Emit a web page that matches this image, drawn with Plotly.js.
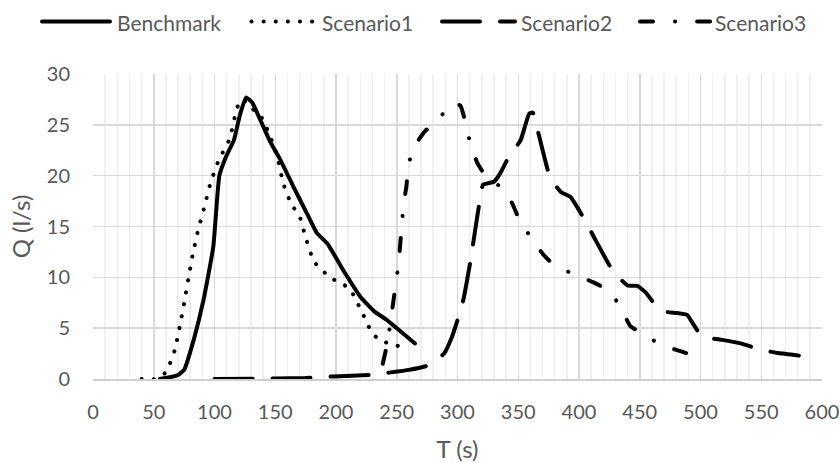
<!DOCTYPE html>
<html>
<head>
<meta charset="utf-8">
<script src="https://cdn.plot.ly/plotly-3.0.1.min.js"></script>
<style>
html,body{margin:0;padding:0;background:#fff;}
#chart{width:840px;height:463px;}
.scatterlayer path.js-line, .shapelayer path{stroke-linecap:round;stroke-linejoin:round;}
</style>
</head>
<body>
<div id="chart"></div>
<script>
// Benchmark
var benchX = [55, 64, 70, 75, 83, 91, 99, 104, 110, 116, 121, 126, 131, 138, 146, 154, 165, 176, 184, 193, 206, 220, 232, 242, 255, 265];
var benchY = [0, 0.2, 0.4, 0.9, 3.9, 7.8, 13, 20, 22, 23.5, 26, 27.7, 27.2, 25.4, 23.3, 21.6, 18.9, 16.3, 14.4, 13.3, 10.7, 8.1, 6.6, 5.8, 4.5, 3.5];
// Scenario1
var s1X = [40, 51, 59.5, 63.6, 67.2, 71.3, 74.9, 78.4, 82, 86.4, 91.6, 96.5, 103.4, 112.4, 117.1, 120, 124, 128, 137, 145.4, 152, 156.4, 163.5, 169.5, 175.3, 181.6, 188.6, 196, 205, 212, 216.7, 221.4, 225.5, 230.4, 238, 248, 258];
var s1Y = [0, 0, 0.6, 1.6, 2.8, 5.1, 7.4, 9.8, 12.2, 14.6, 16.9, 19.2, 21.5, 23.6, 26, 27.1, 27.5, 26.8, 26.1, 24, 21.7, 19.3, 17.1, 16.2, 13.8, 11.6, 10.7, 9.9, 9.4, 8.75, 7.7, 6.6, 5.5, 4.4, 3.7, 3.4, 2.9];
// Scenario2
var s2X = [100, 150, 175, 198, 228, 245, 260, 275, 289, 295, 300, 305, 310.5, 318, 321, 330, 335, 342, 352, 359, 362, 364, 368, 376, 385, 393, 405, 413, 428, 440, 448, 455, 464, 472, 480, 489, 493, 501, 518, 533, 549, 564, 581];
var s2Y = [0, 0.05, 0.1, 0.25, 0.4, 0.65, 0.9, 1.3, 2.5, 4, 5.8, 7.9, 11.5, 17.3, 19.1, 19.4, 20.2, 21.8, 23.5, 26.1, 26.2, 25.4, 23.5, 19.9, 18.4, 17.9, 15.6, 13.8, 10.6, 9.2, 9.15, 8.5, 7.1, 6.6, 6.5, 6.3, 5.6, 4.2, 3.85, 3.5, 2.9, 2.55, 2.3];
// Scenario3
var s3X = [238.5, 242.5, 247.4, 251.5, 255.6, 258, 259.3, 263.4, 273.5, 284.4, 294.6, 302.3, 306.4, 310.5, 316.5, 324.3, 336.6, 344.9, 351.1, 360.5, 370.9, 380.5, 396.4, 412, 424.4, 434, 442.3, 453.2, 468.3, 484.8, 490.2];
var s3Y = [1.5, 3.7, 7.8, 11.4, 17.1, 19, 20.8, 22.7, 24.4, 25.5, 27.1, 26.9, 25.3, 23.2, 21.2, 19.8, 18.8, 17.3, 15.6, 13.9, 12.2, 11.1, 10.3, 9.5, 8.7, 7.1, 5.2, 4.4, 3.3, 2.7, 2.45];

var seriesNames = ["Benchmark", "Scenario1", "Scenario2", "Scenario3"];
var xTicks = [0, 50, 100, 150, 200, 250, 300, 350, 400, 450, 500, 550, 600];
var yTicks = [0, 5, 10, 15, 20, 25, 30];

var FONT = "Lato, 'Open Sans', sans-serif";
var GREY = "#595959";
var dashes = ["solid", "0.1px,12px", "38px,20px", "13px,22px,0.1px,22px"];
var xs = [benchX, s1X, s2X, s3X];
var ys = [benchY, s1Y, s2Y, s3Y];

var data = seriesNames.map(function(n, i){
  return {
    x: xs[i], y: ys[i], name: n, type: "scatter", mode: "lines",
    line: {color: "#000000", width: 4, dash: dashes[i], shape: "spline", smoothing: 0.4},
    hoverinfo: "skip", showlegend: false
  };
});

// Custom legend (Excel-style long line samples), placed in paper coordinates
var PLOT_L = 93, PLOT_W = 729, PLOT_B = 379.3, PLOT_H = 306;
function px2x(p){ return (p - PLOT_L) / PLOT_W; }
function px2y(p){ return (PLOT_B - p) / PLOT_H; }
var legLineStart = [42, 251.5, 442, 640];
var legLineEnd   = [110, 313, 515, 713];
var legTextX     = [115.5, 321, 520, 713.5];
var legY = 20.7;

var shapes = [], annotations = [];
seriesNames.forEach(function(n, i){
  shapes.push({type: "line", xref: "paper", yref: "paper",
    x0: px2x(legLineStart[i]), x1: px2x(legLineEnd[i]), y0: px2y(legY), y1: px2y(legY),
    line: {color: "#000000", width: 4, dash: dashes[i]}});
  annotations.push({xref: "paper", yref: "paper", x: px2x(legTextX[i]), y: px2y(legY + 1),
    xanchor: "left", yanchor: "middle", text: n, showarrow: false,
    font: {family: FONT, size: 21, color: GREY}, borderpad: 0});
});

var layout = {
  width: 840, height: 463,
  margin: {l: 93, r: 18, t: 73.7, b: 83.7},
  paper_bgcolor: "#ffffff", plot_bgcolor: "#ffffff",
  font: {family: FONT, color: GREY, size: 20},
  showlegend: false,
  shapes: shapes,
  annotations: annotations,
  xaxis: {
    range: [0, 600], tickvals: xTicks, ticktext: xTicks.map(String),
    showgrid: true, gridcolor: "#d9d9d9", gridwidth: 1.5,
    minor: {dtick: 10, tick0: 0, showgrid: true, gridcolor: "#efefef", gridwidth: 1.5},
    zeroline: false, showline: true, linecolor: "#cfcfcf", linewidth: 1.5,
    ticks: "", ticklabelstandoff: 14, tickfont: {family: FONT, size: 20, color: GREY},
    title: {text: "T (s)", font: {family: FONT, size: 24, color: GREY}, standoff: 22},
    fixedrange: true
  },
  yaxis: {
    range: [0, 30], tickvals: yTicks, ticktext: yTicks.map(String),
    showgrid: true, gridcolor: "#d9d9d9", gridwidth: 1.5,
    zeroline: false, showline: false,
    ticks: "", ticklabelstandoff: 22, tickfont: {family: FONT, size: 20, color: GREY},
    title: {text: "Q (l/s)", font: {family: FONT, size: 24, color: GREY}, standoff: 9},
    fixedrange: true
  }
};

Plotly.newPlot("chart", data, layout, {displayModeBar: false, staticPlot: true});
</script>
</body>
</html>
